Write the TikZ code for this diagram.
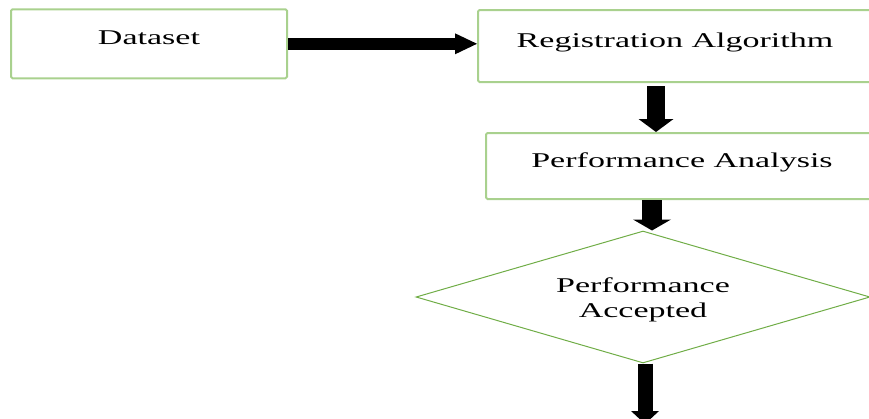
\documentclass[tikz,border=0pt]{standalone}
\usepackage{fontspec}
\setmainfont{Liberation Serif}[FakeStretch=1.62]
\usetikzlibrary{arrows.meta,shapes.geometric,calc}
\definecolor{boxgreen}{RGB}{169,209,142}
\definecolor{diagreen}{RGB}{112,173,71}
\begin{document}
\begin{tikzpicture}[x=1pt,y=-1pt,
  labelfont/.style={font=\fontsize{21}{25}\selectfont},
  flowbox/.style={draw=boxgreen, line width=2pt, rounded corners=1.5pt,
    inner sep=0pt, text height=8pt, text depth=6pt, labelfont},
  decision/.style={diamond, draw=diagreen, line width=1pt, aspect=3.44,
    inner sep=0pt, align=center, text height=42pt, text depth=2pt, labelfont},
  bigarrow/.style n args={3}{draw=black, line width=#1,
    -{Triangle[length=#2,width=#3,line width=0pt]}}
]
\useasboundingbox (0,0) rectangle (869,418);
\clip (0,0) rectangle (869,418);

% process boxes
\node[flowbox, minimum width=276pt, minimum height=69pt] (data) at (149,43.8) {Dataset};
\node[flowbox, minimum width=394pt, minimum height=72pt] (reg) at (675,46) {Registration Algorithm};
\node[flowbox, minimum width=392pt, minimum height=66pt] (pa) at (682,166) {Performance Analysis};

% decision
\node[decision, minimum width=454pt, minimum height=132pt] (dia) at (643,297) {Performance\\Accepted};
\coordinate (out) at (645,424);

% connectors
\draw[bigarrow={12pt}{22pt}{21pt}] (data.east) -- (data.east -| reg.west);
\draw[bigarrow={18pt}{13pt}{35pt}, shorten <=3pt]
  ([xshift=-19pt]reg.south) -- ([xshift=-19pt]reg.south |- pa.north);
\draw[bigarrow={20pt}{11pt}{38pt}]
  ([xshift=-30pt]pa.south) -- ([xshift=-30pt]pa.south |- dia.north);
\draw[bigarrow={15pt}{13pt}{28pt}] (out |- dia.south) -- (out);
\end{tikzpicture}
\end{document}
